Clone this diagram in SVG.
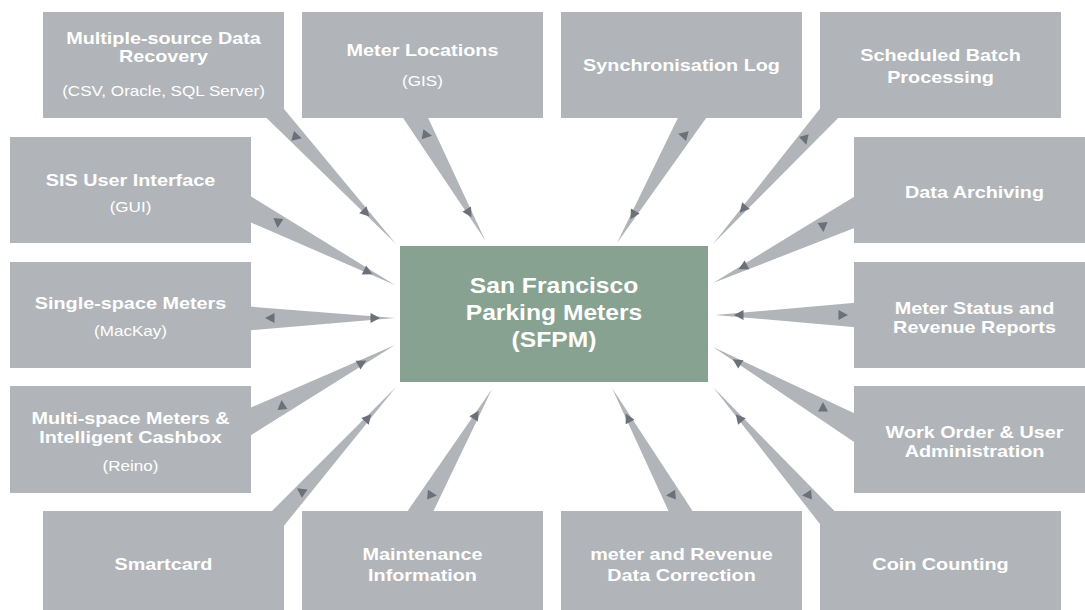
<svg xmlns="http://www.w3.org/2000/svg" xmlns:xlink="http://www.w3.org/1999/xlink" width="1085" height="610" viewBox="0 0 1085 610">
  <style>
    .box { fill: #b1b5b9; }
    .core { fill: #87a290; }
    .wedge { fill: #b1b5b9; }
    .tip { fill: #6b7079; }
    .t { font-family: "Liberation Sans", Arial, Helvetica, sans-serif; font-weight: bold; font-size: 16.5px; fill: #ffffff; text-anchor: middle; }
    .s { font-family: "Liberation Sans", Arial, Helvetica, sans-serif; font-size: 14px; fill: #ffffff; text-anchor: middle; }
    .c { font-family: "Liberation Sans", Arial, Helvetica, sans-serif; font-weight: bold; font-size: 22px; fill: #ffffff; text-anchor: middle; }
  </style>
  <defs>
    <!-- small arrowhead, pointing along +x -->
    <path id="tri" d="M5,0 L-4.5,-5 L-4.5,5 Z"/>
  </defs>

  <!-- tapered links between the hub and each surrounding system -->
  <g id="connectors">
    <polygon class="wedge" points="396,244 241,93 260,80"/>
    <polygon class="wedge" points="485,240 387,94 417,94"/>
    <polygon class="wedge" points="617,243 690,93 724,93"/>
    <polygon class="wedge" points="713,244 841,82 863,93"/>
    <polygon class="wedge" points="713,283 875,184 875,220"/>
    <polygon class="wedge" points="715,315 875,301 875,329"/>
    <polygon class="wedge" points="713,347 875,423 875,456"/>
    <polygon class="wedge" points="713,387 841,551 859,536"/>
    <polygon class="wedge" points="612,388 680,536 709,536"/>
    <polygon class="wedge" points="492,389 391,535 422,535"/>
    <polygon class="wedge" points="396,387 247,536 262,553"/>
    <polygon class="wedge" points="395,345 229,417 229,449"/>
    <polygon class="wedge" points="395,318 229,305 229,332"/>
    <polygon class="wedge" points="395,285 229,183 229,213"/>

    <!-- arrowheads near the hub -->
    <use class="tip" xlink:href="#tri" transform="translate(366,213) rotate(46)"/>
    <use class="tip" xlink:href="#tri" transform="translate(469,213) rotate(59)"/>
    <use class="tip" xlink:href="#tri" transform="translate(633,215) rotate(120)"/>
    <use class="tip" xlink:href="#tri" transform="translate(743,209) rotate(131)"/>
    <use class="tip" xlink:href="#tri" transform="translate(743,267) rotate(152)"/>
    <use class="tip" xlink:href="#tri" transform="translate(739,315) rotate(180)"/>
    <use class="tip" xlink:href="#tri" transform="translate(737,362) rotate(212)"/>
    <use class="tip" xlink:href="#tri" transform="translate(739,418) rotate(230)"/>
    <use class="tip" xlink:href="#tri" transform="translate(628,418) rotate(242)"/>
    <use class="tip" xlink:href="#tri" transform="translate(476,415) rotate(302)"/>
    <use class="tip" xlink:href="#tri" transform="translate(368,418) rotate(312)"/>
    <use class="tip" xlink:href="#tri" transform="translate(362,363) rotate(331)"/>
    <use class="tip" xlink:href="#tri" transform="translate(375,318) rotate(0)"/>
    <use class="tip" xlink:href="#tri" transform="translate(368,272) rotate(26)"/>

    <!-- arrowheads near the outer systems -->
    <use class="tip" xlink:href="#tri" transform="translate(297,137) rotate(15)"/>
    <use class="tip" xlink:href="#tri" transform="translate(427,135) rotate(10)"/>
    <use class="tip" xlink:href="#tri" transform="translate(683,135) rotate(195)"/>
    <use class="tip" xlink:href="#tri" transform="translate(805,140) rotate(75)"/>
    <use class="tip" xlink:href="#tri" transform="translate(823,227) rotate(85)"/>
    <use class="tip" xlink:href="#tri" transform="translate(843,315) rotate(0)"/>
    <use class="tip" xlink:href="#tri" transform="translate(823,407) rotate(270)"/>
    <use class="tip" xlink:href="#tri" transform="translate(807,495) rotate(175)"/>
    <use class="tip" xlink:href="#tri" transform="translate(671,495) rotate(175)"/>
    <use class="tip" xlink:href="#tri" transform="translate(432,495) rotate(5)"/>
    <use class="tip" xlink:href="#tri" transform="translate(301,491) rotate(215)"/>
    <use class="tip" xlink:href="#tri" transform="translate(282,405) rotate(265)"/>
    <use class="tip" xlink:href="#tri" transform="translate(270,318) rotate(180)"/>
    <use class="tip" xlink:href="#tri" transform="translate(278,223) rotate(95)"/>
  </g>

  <!-- hub (labels are drawn with a slight horizontal stretch) -->
  <g id="sfpm">
    <rect class="core" x="400" y="246" width="308" height="136"/>
    <text class="c" transform="matrix(1.12 0 0 1 554 293)">San Francisco</text>
    <text class="c" transform="matrix(1.12 0 0 1 554 320)">Parking Meters</text>
    <text class="c" transform="matrix(1.12 0 0 1 554 347)">(SFPM)</text>
  </g>

  <!-- top row -->
  <g id="data-recovery">
    <rect class="box" x="43" y="12" width="241" height="106"/>
    <text class="t" transform="matrix(1.2 0 0 1 163.5 44)">Multiple-source Data</text>
    <text class="t" transform="matrix(1.2 0 0 1 163.5 62)">Recovery</text>
    <text class="s" transform="matrix(1.22 0 0 1 163.5 96)">(CSV, Oracle, SQL Server)</text>
  </g>
  <g id="meter-locations">
    <rect class="box" x="302" y="12" width="241" height="106"/>
    <text class="t" transform="matrix(1.2 0 0 1 422.5 56)">Meter Locations</text>
    <text class="s" transform="matrix(1.22 0 0 1 422.5 86)">(GIS)</text>
  </g>
  <g id="sync-log">
    <rect class="box" x="561" y="12" width="241" height="106"/>
    <text class="t" transform="matrix(1.2 0 0 1 681.5 71)">Synchronisation Log</text>
  </g>
  <g id="batch-processing">
    <rect class="box" x="820" y="12" width="241" height="106"/>
    <text class="t" transform="matrix(1.2 0 0 1 940.5 61)">Scheduled Batch</text>
    <text class="t" transform="matrix(1.2 0 0 1 940.5 83)">Processing</text>
  </g>

  <!-- left column -->
  <g id="sis-ui">
    <rect class="box" x="10" y="137" width="241" height="106"/>
    <text class="t" transform="matrix(1.2 0 0 1 130.5 186)">SIS User Interface</text>
    <text class="s" transform="matrix(1.22 0 0 1 130.5 212)">(GUI)</text>
  </g>
  <g id="single-space">
    <rect class="box" x="10" y="262" width="241" height="106"/>
    <text class="t" transform="matrix(1.2 0 0 1 130.5 309)">Single-space Meters</text>
    <text class="s" transform="matrix(1.22 0 0 1 130.5 336)">(MacKay)</text>
  </g>
  <g id="multi-space">
    <rect class="box" x="10" y="386" width="241" height="107"/>
    <text class="t" transform="matrix(1.2 0 0 1 130.5 424)">Multi-space Meters &amp;</text>
    <text class="t" transform="matrix(1.2 0 0 1 130.5 443)">Intelligent Cashbox</text>
    <text class="s" transform="matrix(1.22 0 0 1 130.5 471)">(Reino)</text>
  </g>

  <!-- right column -->
  <g id="data-archiving">
    <rect class="box" x="854" y="137" width="241" height="106"/>
    <text class="t" transform="matrix(1.2 0 0 1 974.5 198)">Data Archiving</text>
  </g>
  <g id="status-reports">
    <rect class="box" x="854" y="262" width="241" height="106"/>
    <text class="t" transform="matrix(1.2 0 0 1 974.5 314)">Meter Status and</text>
    <text class="t" transform="matrix(1.2 0 0 1 974.5 333)">Revenue Reports</text>
  </g>
  <g id="work-orders">
    <rect class="box" x="854" y="386" width="241" height="107"/>
    <text class="t" transform="matrix(1.2 0 0 1 974.5 438)">Work Order &amp; User</text>
    <text class="t" transform="matrix(1.2 0 0 1 974.5 457)">Administration</text>
  </g>

  <!-- bottom row -->
  <g id="smartcard">
    <rect class="box" x="43" y="511" width="241" height="99"/>
    <text class="t" transform="matrix(1.2 0 0 1 163.5 570)">Smartcard</text>
  </g>
  <g id="maintenance">
    <rect class="box" x="302" y="511" width="241" height="99"/>
    <text class="t" transform="matrix(1.2 0 0 1 422.5 560)">Maintenance</text>
    <text class="t" transform="matrix(1.2 0 0 1 422.5 581)">Information</text>
  </g>
  <g id="data-correction">
    <rect class="box" x="561" y="511" width="241" height="99"/>
    <text class="t" transform="matrix(1.2 0 0 1 681.5 560)">meter and Revenue</text>
    <text class="t" transform="matrix(1.2 0 0 1 681.5 581)">Data Correction</text>
  </g>
  <g id="coin-counting">
    <rect class="box" x="820" y="511" width="241" height="99"/>
    <text class="t" transform="matrix(1.2 0 0 1 940.5 570)">Coin Counting</text>
  </g>
</svg>
